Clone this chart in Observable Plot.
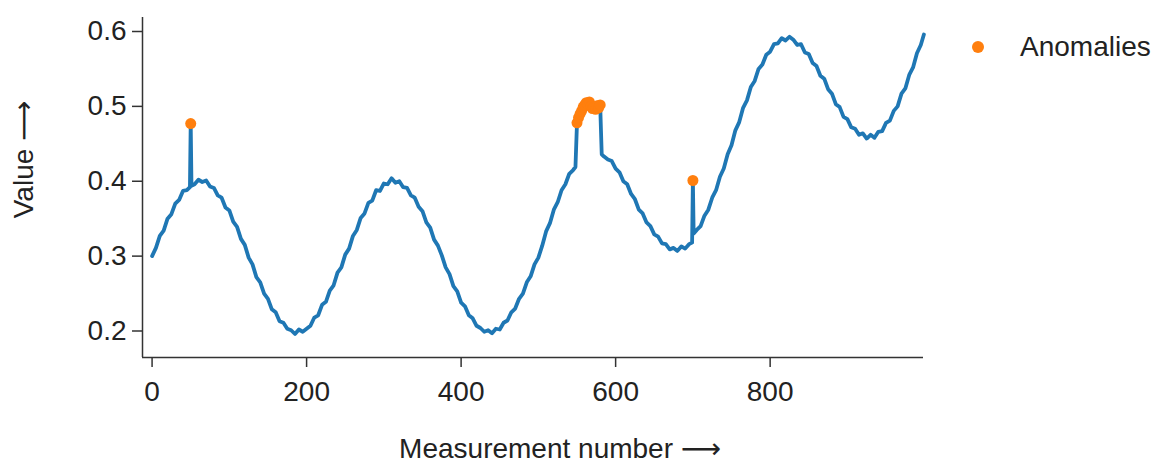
<!DOCTYPE html>
<html><head><meta charset="utf-8">
<script src="https://cdn.jsdelivr.net/npm/d3@7"></script>
<script src="https://cdn.jsdelivr.net/npm/@observablehq/plot@0.6"></script>
<style>
body{margin:0;background:#fff;}
#chart{position:relative;width:1159px;height:463px;font-family:"Liberation Sans",Arial,sans-serif;}
.legend{position:absolute;left:972px;top:30px;height:34px;line-height:34px;display:flex;align-items:center;font-size:28px;color:#222;}
.legend .dot{width:12px;height:12px;border-radius:50%;background:#ff7f0e;margin-right:36px;}
</style></head>
<body><div id="chart"><div class="legend"><span class="dot"></span><span>Anomalies</span></div></div>
<script>
// [measurement number, value]
const series = [
[0,0.300],[5,0.311],[10,0.327],[15,0.334],[20,0.350],[25,0.356],[30,0.370],[35,0.375],[40,0.387],[45,0.388],
[49,0.392],[50,0.477],[51,0.394],
[55,0.396],[60,0.402],[65,0.399],[70,0.401],[75,0.393],[80,0.391],[85,0.381],[90,0.378],[95,0.365],
[100,0.361],[105,0.346],[110,0.339],[115,0.323],[120,0.315],[125,0.298],[130,0.289],[135,0.272],[140,0.265],[145,0.250],
[150,0.243],[155,0.229],[160,0.225],[165,0.213],[170,0.211],[175,0.203],[180,0.201],[185,0.196],[190,0.202],[195,0.199],
[200,0.203],[205,0.207],[210,0.218],[215,0.221],[220,0.235],[225,0.239],[230,0.254],[235,0.261],[240,0.278],[245,0.285],
[250,0.302],[255,0.310],[260,0.327],[265,0.335],[270,0.351],[275,0.357],[280,0.371],[285,0.374],[290,0.388],[295,0.387],
[300,0.397],[305,0.396],[310,0.404],[315,0.398],[320,0.400],[325,0.392],[330,0.391],[335,0.381],[340,0.378],[345,0.366],
[350,0.360],[355,0.345],[360,0.338],[365,0.322],[370,0.314],[375,0.301],[380,0.285],[385,0.276],[390,0.260],[395,0.253],
[400,0.238],[405,0.233],[410,0.221],[415,0.217],[420,0.207],[425,0.204],[430,0.199],[435,0.201],[440,0.197],[445,0.203],
[450,0.202],[455,0.211],[460,0.214],[465,0.225],[470,0.230],[475,0.243],[480,0.250],[485,0.265],[490,0.273],[495,0.289],
[500,0.298],[505,0.314],[510,0.333],[515,0.344],[520,0.362],[525,0.372],[530,0.388],[535,0.396],[540,0.410],[545,0.415],
[548,0.419],
[550,0.478],[552,0.485],[554,0.490],[556,0.494],[558,0.499],[560,0.502],[562,0.505],[564,0.503],[566,0.506],[568,0.500],
[570,0.497],[572,0.499],[574,0.496],[576,0.501],[578,0.498],[580,0.502],
[582,0.436],[585,0.433],[590,0.429],[595,0.427],
[600,0.417],[605,0.412],[610,0.400],[615,0.396],[620,0.383],[625,0.376],[630,0.362],[635,0.357],[640,0.345],[645,0.340],
[650,0.329],[655,0.326],[660,0.317],[665,0.316],[670,0.309],[675,0.311],[680,0.307],[685,0.313],[690,0.310],[695,0.316],
[699,0.318],[700,0.401],[701,0.330],
[705,0.335],[710,0.340],[715,0.354],[720,0.362],[725,0.378],[730,0.388],[735,0.406],[740,0.417],[745,0.436],
[750,0.448],[755,0.468],[760,0.479],[765,0.498],[770,0.508],[775,0.526],[780,0.534],[785,0.550],[790,0.556],[795,0.569],
[800,0.573],[805,0.583],[810,0.584],[815,0.591],[820,0.588],[825,0.593],[830,0.589],[835,0.582],[840,0.583],[845,0.572],
[850,0.570],[855,0.558],[860,0.554],[865,0.541],[870,0.537],[875,0.523],[880,0.517],[885,0.503],[890,0.499],[895,0.486],
[900,0.483],[905,0.472],[910,0.470],[915,0.462],[920,0.464],[925,0.457],[930,0.462],[935,0.458],[940,0.466],[945,0.467],
[950,0.478],[955,0.481],[960,0.494],[965,0.500],[970,0.517],[975,0.524],[980,0.542],[985,0.552],[990,0.571],[995,0.582],
[999,0.596]
];
const anomalyNumbers = [50,550,552,554,556,558,560,562,564,566,568,570,572,574,576,578,580,700];
const xTicks = [0,200,400,600,800];
const yTicks = [0.2,0.3,0.4,0.5,0.6];
const xDomain = [-12.4,998.5];
const yDomain = [0.1646,0.6187];
const xLabel = "Measurement number \u27F6";
const yLabel = "Value \u27F6";

const anomalies = series.filter(d => anomalyNumbers.includes(d[0]));

const chart = Plot.plot({
  width: 1159, height: 463,
  marginLeft: 142, marginRight: 236, marginTop: 17, marginBottom: 106,
  style: {fontFamily: "Liberation Sans, Arial, DejaVu Sans, sans-serif", fontSize: "28px", color: "#222", background: "transparent", overflow: "visible"},
  x: {domain: xDomain},
  y: {domain: yDomain},
  marks: [
    Plot.ruleX([xDomain[0]], {stroke: "#333", strokeWidth: 1.5}),
    Plot.ruleY([yDomain[0]], {stroke: "#333", strokeWidth: 1.5}),
    Plot.axisX({ticks: xTicks, tickSize: 10, tickPadding: 14, fontSize: 28, label: null, stroke: "#333", strokeWidth: 1.5}),
    Plot.axisY({ticks: yTicks, tickSize: 10, tickPadding: 6, fontSize: 28, label: null, tickFormat: d => d.toFixed(1), stroke: "#333", strokeWidth: 1.5}),
    Plot.line(series, {x: d => d[0], y: d => d[1], stroke: "#1f77b4", strokeWidth: 3.8}),
    Plot.dot(anomalies, {x: d => d[0], y: d => d[1], fill: "#ff7f0e", r: 5.5}),
    Plot.text([xLabel], {text: d => d, frameAnchor: "bottom", textAnchor: "middle", lineAnchor: "middle", dx: 27, dy: 92, fontSize: 28, fill: "#222"}),
    Plot.text([yLabel], {text: d => d, frameAnchor: "left", textAnchor: "middle", lineAnchor: "middle", rotate: -90, dx: -118, dy: -28, fontSize: 28, fill: "#222"})
  ]
});
chart.style.position = "absolute";
chart.style.left = "0";
chart.style.top = "0";
document.getElementById("chart").prepend(chart);
</script>
</body></html>
